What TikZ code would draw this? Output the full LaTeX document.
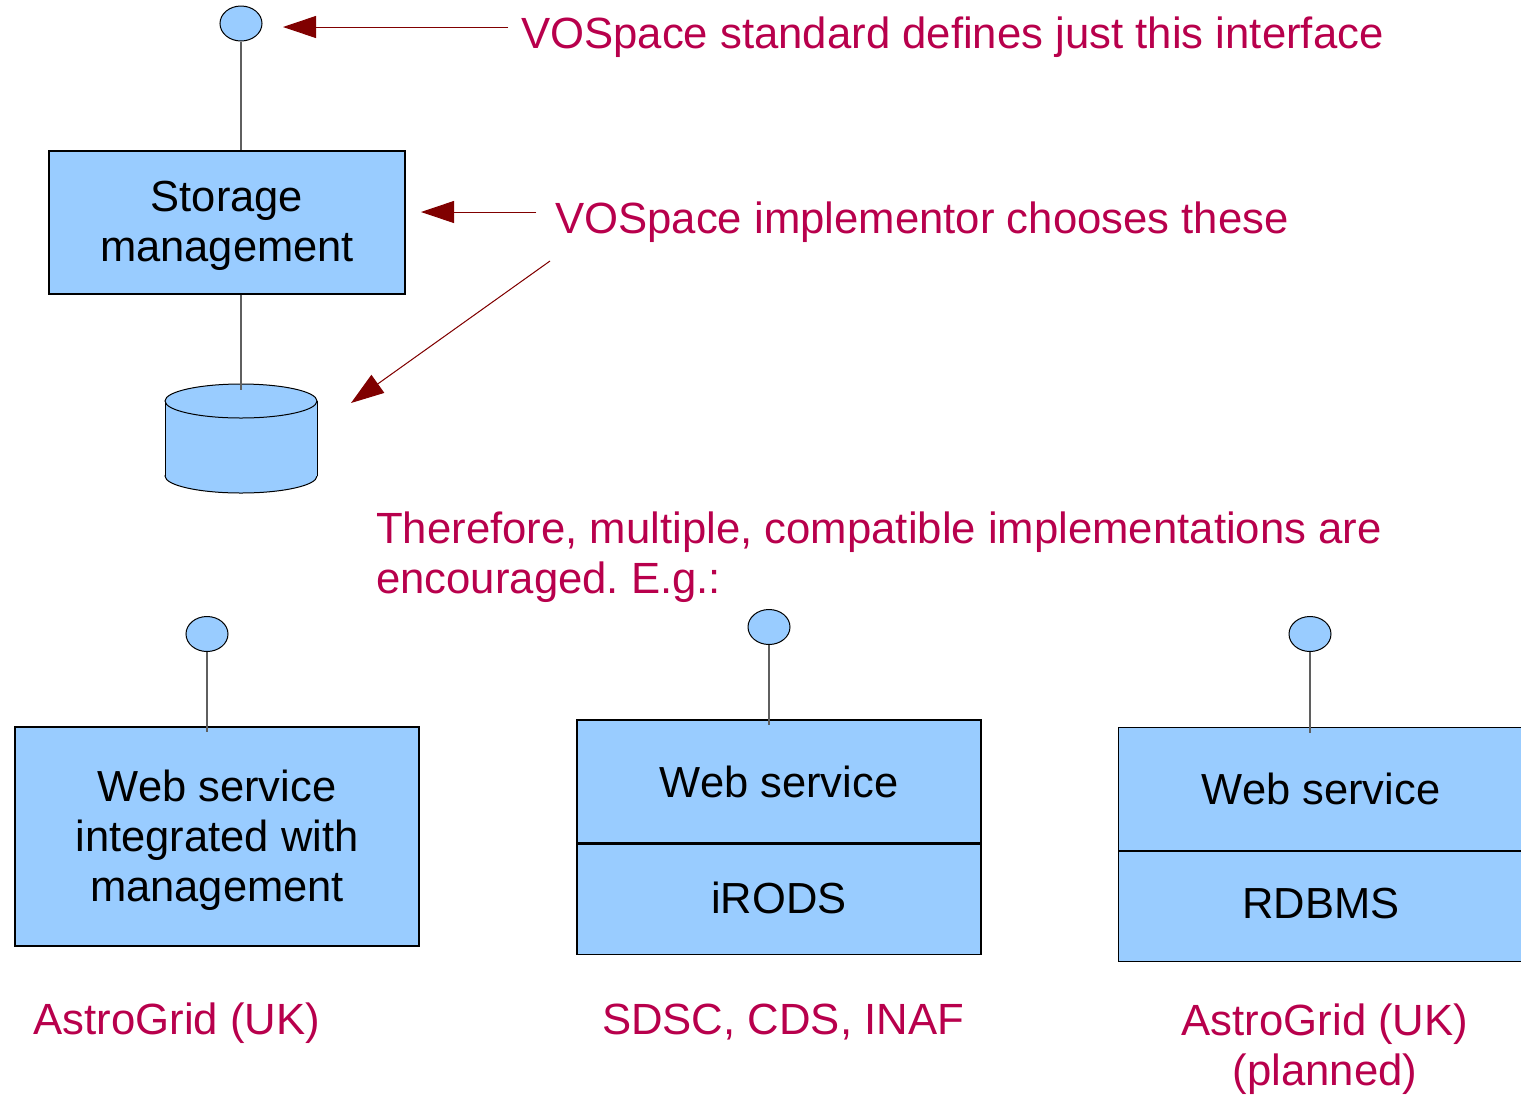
\documentclass[tikz,border=0pt]{standalone}
\usepackage{fontspec}
\setmainfont{Liberation Sans}
\frenchspacing
\usetikzlibrary{shapes.geometric,arrows.meta}
\definecolor{boxfill}{RGB}{153,204,255}
\definecolor{notered}{RGB}{184,0,76}
\definecolor{arrowred}{RGB}{128,0,0}
\definecolor{linkgray}{RGB}{95,95,95}
\tikzset{
  iface/.style={ellipse,draw=black,line width=1pt,fill=boxfill,minimum width=42pt,minimum height=35pt,inner sep=0pt},
  compbox/.style={rectangle,draw=black,line width=1.2pt,fill=boxfill,align=center,inner sep=0pt,font=\fontsize{43.5}{50}\selectfont},
  bigtext/.style={font=\fontsize{43.5}{50}\selectfont},
  note/.style={text=notered,font=\fontsize{43.7}{50}\selectfont,inner sep=0pt},
  link/.style={draw=linkgray,line width=1.2pt},
  callout/.style={draw=arrowred,line width=1pt,-{Triangle[length=33pt,width=22pt]},fill=arrowred}
}
\begin{document}
\begin{tikzpicture}[x=1pt,y=-1pt]
\useasboundingbox (0,0) rectangle (1521,1096);
\clip (0,0) rectangle (1521,1096);
% top stack
\node[iface] (topif) at (241,23.5) {};
\node[compbox,minimum width=356pt,minimum height=143pt] (storage) at (227,222.5) {};
\node[bigtext,align=center] (storaget) at (227,226) {Storage\\management};
% cylinder
\coordinate (cyltop) at (241,390);
\filldraw[fill=boxfill,draw=black,line width=1pt] (241,476) ellipse [x radius=76,y radius=17];
\fill[boxfill] (165,401) rectangle (317,476);
\draw[black,line width=1pt] (165,401) -- (165,476) (317,401) -- (317,476);
\filldraw[fill=boxfill,draw=black,line width=1pt] (241,401) ellipse [x radius=76,y radius=17];
\draw[link] (topif.south) -- (topif.south |- storage.north);
\draw[link] (topif.south |- storage.south) -- (cyltop);
% notes and arrows
\node[note,anchor=base west] (n1) at (521,48) {VOSpace standard defines just this interface};
\node[note,anchor=base west] (n2) at (555,233) {VOSpace implementor chooses these};
\node[note,anchor=base west,align=left] (n3) at (376,593) {Therefore, multiple, compatible implementations are\\encouraged. E.g.:};
\coordinate (a1s) at (508,27);
\coordinate (a1e) at (283,27);
\coordinate (a2s) at (536,212);
\coordinate (a2e) at (421,212);
\coordinate (a3s) at (550,261);
\coordinate (a3e) at (351,403);
\draw[callout] (a1s) -- (a1e);
\draw[callout] (a2s) -- (a2e);
\draw[callout] (a3s) -- (a3e);
% bottom components
\node[iface] (if1) at (207,634) {};
\node[iface] (if2) at (769,627) {};
\node[iface] (if3) at (1310,634) {};
\node[compbox,minimum width=404pt,minimum height=219pt] (web1) at (217,836.5) {};
\node[bigtext,align=center] (web1t) at (217,840) {Web service\\integrated with\\management};
\node[compbox,minimum width=404pt,minimum height=123pt] (web2) at (779,781.5) {Web service};
\node[compbox,minimum width=404pt,minimum height=110pt,anchor=north] (irods) at (web2.south) {};
\node[bigtext] (irodst) at (779,898) {iRODS};
\node[compbox,minimum width=420pt,minimum height=123pt,anchor=north west] (web3) at (1118,727) {};
\node[compbox,minimum width=420pt,minimum height=110pt,anchor=north] (rdbms) at (web3.south) {};
\node[bigtext] (web3t) at (1321,788.5) {Web service};
\node[bigtext] (rdbmst) at (1321,904) {RDBMS};
\draw[link] (if1.south) -- ([yshift=-6pt]if1.south |- web1.north);
\draw[link] (if2.south) -- ([yshift=-6pt]if2.south |- web2.north);
\draw[link] (if3.south) -- ([yshift=-6pt]if3.south |- web3.north);
% labels
\node[note,anchor=base] (l1) at (177,1034) {AstroGrid (UK)};
\node[note,anchor=base] (l2) at (783,1034) {SDSC, CDS, INAF};
\node[note,align=center,anchor=base] (l3) at (1325,1085) {AstroGrid (UK)\\(planned)};
\end{tikzpicture}
\end{document}
